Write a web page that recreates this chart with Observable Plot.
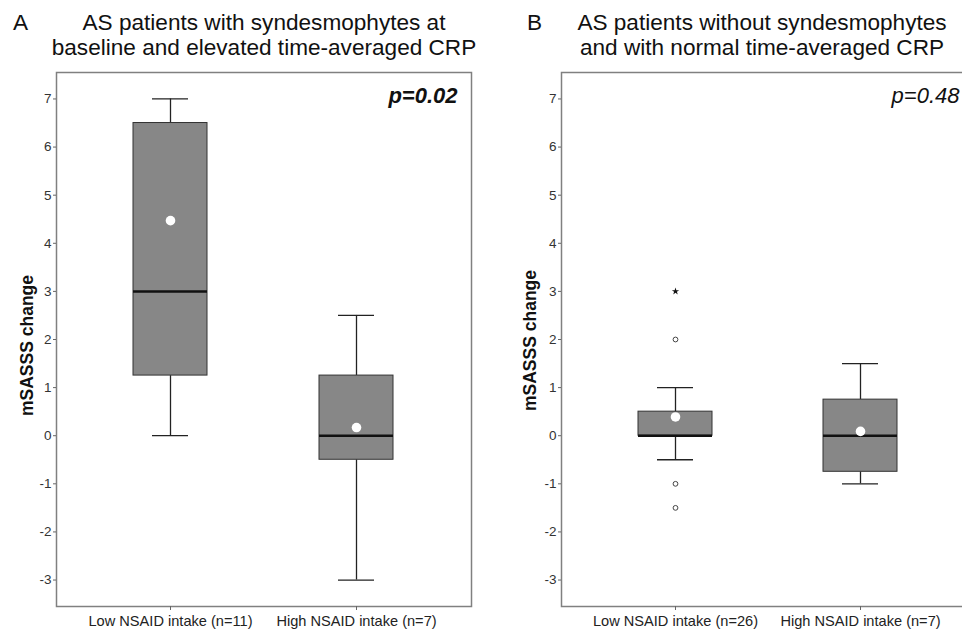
<!DOCTYPE html>
<html><head><meta charset="utf-8">
<script src="https://cdn.jsdelivr.net/npm/d3@7"></script>
<script src="https://cdn.jsdelivr.net/npm/@observablehq/plot@0.6"></script>
<style>
html,body{margin:0;padding:0;background:#fff;overflow:hidden}
#fig{position:relative;width:962px;height:631px;overflow:hidden;font-family:"Liberation Sans",Arial,sans-serif;background:#fff}
.t{position:absolute;font-size:22.6px;line-height:24.5px;color:#111;white-space:nowrap}
.c{text-align:center;width:500px}
.w{position:absolute;top:0}
</style></head><body><div id="fig"></div>
<script>
// ---- data ----
const yTicks = [-3, -2, -1, 0, 1, 2, 3, 4, 5, 6, 7];

const titleA = ["AS patients with syndesmophytes at", "baseline and elevated time-averaged CRP"];
const categoriesA = ["Low NSAID intake (n=11)", "High NSAID intake (n=7)"];
const whiskerLowA = [0, -3];
const q1A = [1.25, -0.5];
const medianA = [3, 0];
const q3A = [6.5, 1.25];
const whiskerHighA = [7, 2.5];
const meanA = [4.47, 0.17];
const outlierValuesA = [];
const extremeValuesA = [];
const pValueA = "p=0.02";

const titleB = ["AS patients without syndesmophytes", "and with normal time-averaged CRP"];
const categoriesB = ["Low NSAID intake (n=26)", "High NSAID intake (n=7)"];
const whiskerLowB = [-0.5, -1];
const q1B = [0, -0.75];
const medianB = [0, 0];
const q3B = [0.5, 0.75];
const whiskerHighB = [1, 1.5];
const meanB = [0.39, 0.09];
const outlierValuesB = [2, -1, -1.5];   // in the low-intake group
const extremeValuesB = [3];             // in the low-intake group
const pValueB = "p=0.48";

const yLabel = "mSASSS change";

function panel(o) {
  const rows = o.cats.map((c, i) => ({cat: c, lo: o.lo[i], q1: o.q1[i], med: o.med[i], q3: o.q3[i], hi: o.hi[i], mean: o.mean[i]}));
  const outs = o.outs.map(v => ({cat: o.cats[0], v}));
  const exts = o.exts.map(v => ({cat: o.cats[0], v}));
  const wh = {stroke: "#222", strokeWidth: 1.3};
  return Plot.plot({
    width: o.width, height: 631,
    marginTop: 72, marginBottom: 25, marginLeft: o.ml, marginRight: o.mr,
    style: {fontFamily: "'Liberation Sans', Arial, sans-serif", background: "transparent", maxWidth: "none"},
    x: {type: "band", domain: o.cats, paddingInner: 0.6, paddingOuter: 0.41, label: null},
    y: {domain: [-3.55, 7.55], label: null},
    marks: [
      Plot.ruleX(rows, {x: "cat", y1: "lo", y2: "q1", ...wh}),
      Plot.ruleX(rows, {x: "cat", y1: "q3", y2: "hi", ...wh}),
      Plot.tickY(rows, {x: "cat", y: "lo", insetLeft: 19, insetRight: 19, ...wh}),
      Plot.tickY(rows, {x: "cat", y: "hi", insetLeft: 19, insetRight: 19, ...wh}),
      Plot.barY(rows, {x: "cat", y1: "q1", y2: "q3", fill: "#878787", stroke: "#333", strokeWidth: 1}),
      Plot.tickY(rows, {x: "cat", y: "med", stroke: "#111", strokeWidth: 2.5}),
      Plot.dot(rows, {x: "cat", y: "mean", r: 4.8, fill: "white", stroke: "none"}),
      Plot.dot(outs, {x: "cat", y: "v", r: 2.4, fill: "white", stroke: "#444", strokeWidth: 1}),
      Plot.dot(exts, {x: "cat", y: "v", symbol: "star", r: 2.3, fill: "#111", stroke: "none"}),
      Plot.frame({stroke: "#808080", strokeWidth: 1.5}),
      Plot.axisY(yTicks, {tickSize: 3, tickPadding: 2, tickFormat: d => String(d), fontSize: 13.5, stroke: "#666", fill: "#333"}),
      Plot.axisX({tickSize: 4, tickPadding: 5, fontSize: 14.6, stroke: "#666", fill: "#222"}),
      Plot.text([o.p], {text: d => d, frameAnchor: "top-right", dx: -14, dy: 30, lineAnchor: "bottom",
        fontSize: 22, fontStyle: "italic", fontWeight: o.pWeight, fill: "#111"}),
      Plot.text([yLabel], {text: d => d, frameAnchor: "left", rotate: -90, dx: o.ldx, dy: o.ldy,
        textAnchor: "middle", lineAnchor: "top", fontWeight: "bold", fontSize: 17.5, fill: "#111"})
    ]
  });
}

const fig = document.getElementById("fig");
function place(svg, left, width) {
  const w = document.createElement("div");
  w.className = "w";
  w.style.left = left + "px";
  w.style.width = width + "px";
  w.appendChild(svg);
  fig.appendChild(w);
}
place(panel({cats: categoriesA, lo: whiskerLowA, q1: q1A, med: medianA, q3: q3A, hi: whiskerHighA, mean: meanA,
  outs: outlierValuesA, exts: extremeValuesA, p: pValueA, pWeight: "bold",
  width: 480, ml: 56, mr: 9, ldx: -36, ldy: 6}), 0, 480);
place(panel({cats: categoriesB, lo: whiskerLowB, q1: q1B, med: medianB, q3: q3B, hi: whiskerHighB, mean: meanB,
  outs: outlierValuesB, exts: extremeValuesB, p: pValueB, pWeight: "normal",
  width: 500, ml: 81, mr: 7, ldx: -38, ldy: 1}), 480, 500);

function title(text, left, top, cls) {
  const d = document.createElement("div");
  d.className = "t " + (cls || "");
  d.style.left = left + "px";
  d.style.top = top + "px";
  d.innerHTML = text;
  fig.appendChild(d);
}
title("A", 13, 11);
title(titleA.join("<br>"), 14, 11, "c");
title("B", 527, 11);
title(titleB.join("<br>"), 512, 11, "c");
</script>
</body></html>
